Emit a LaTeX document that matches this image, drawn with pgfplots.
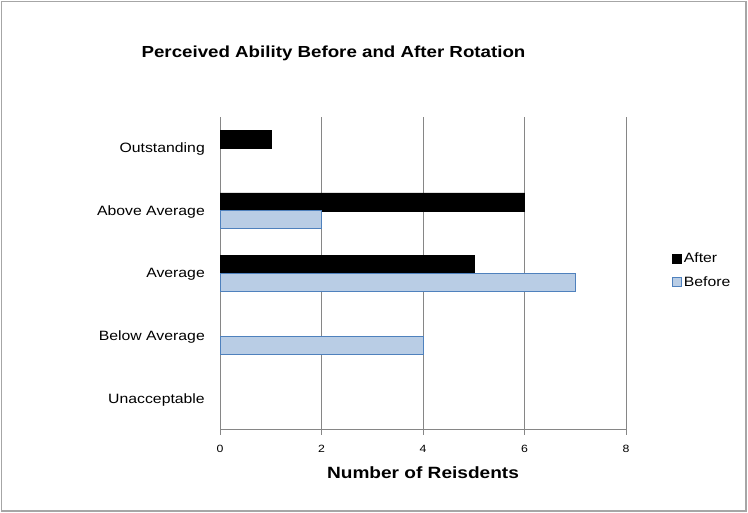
\documentclass[border=0pt]{standalone}
\usepackage{fontspec}
\setmainfont{Liberation Sans}[FakeStretch=1.17]
\usepackage{pgfplots}
\pgfplotsset{compat=1.18}
\definecolor{beforefill}{RGB}{185,205,229}
\definecolor{beforeedge}{RGB}{79,129,189}
\definecolor{axgray}{RGB}{134,134,134}
\begin{document}
\begin{tikzpicture}
\path (0,0) rectangle (748bp,513bp);
\draw[color=gray!70, line width=1.5bp] (1.5bp,2bp) rectangle (746bp,511.5bp);
\begin{axis}[
  at={(220bp,83bp)}, anchor=south west,
  scale only axis, width=406bp, height=313bp,
  xbar, bar width=18bp,
  xmin=0, xmax=8, ymin=-0.5, ymax=4.5,
  xtick={0,2,4,6,8},
  ytick={0,1,2,3,4},
  yticklabels={Unacceptable, Below Average, Average, Above Average, Outstanding},
  axis x line*=bottom, axis y line*=left,
  axis line style={axgray, line width=1bp},
  xmajorgrids, grid style={axgray, line width=1bp},
  major tick length=5bp,
  tick align=outside,
  ytick style={draw=none},
  xtick style={axgray, line width=1bp},
  tick label style={font=\fontsize{13.5bp}{16bp}\selectfont},
  xticklabel style={font=\fontsize{10.5bp}{12bp}\selectfont, inner sep=0pt, anchor=north, yshift=-10bp},
  yticklabel style={inner sep=0pt, anchor=east, xshift=-10bp, yshift=-1bp},
  /pgf/number format/assume math mode=true,
  xlabel={Number of Reisdents},
  xlabel style={font=\bfseries\fontsize{16.3bp}{19bp}\selectfont, at={(axis description cs:0.5,0)}, anchor=north, yshift=-36bp, inner sep=0pt},
  legend style={at={(1.113,0.51)}, anchor=west, draw=none, fill=none, font=\fontsize{13.5bp}{16bp}\selectfont, row sep=8bp, inner sep=0pt},
  legend cell align=left,
]
\addplot[fill=black, draw=black, bar shift=9bp,
  legend image code/.code={\draw[fill=black, draw=black] (0bp,-4.5bp) rectangle (9bp,4.5bp);}]
  coordinates {(1,4) (6,3) (5,2)};
\addlegendentry{After}
\addplot[fill=beforefill, draw=beforeedge, line width=0.8bp, bar shift=-9bp,
  legend image code/.code={\draw[fill=beforefill, draw=beforeedge, line width=0.8bp] (0bp,-4.5bp) rectangle (9bp,4.5bp);}]
  coordinates {(2,3) (7,2) (4,1)};
\addlegendentry{Before}
\end{axis}
\node[anchor=north, inner sep=0pt, font=\bfseries\fontsize{16bp}{19bp}\selectfont] at (333.5bp,467bp) {Perceived Ability Before and After Rotation};
\end{tikzpicture}
\end{document}
